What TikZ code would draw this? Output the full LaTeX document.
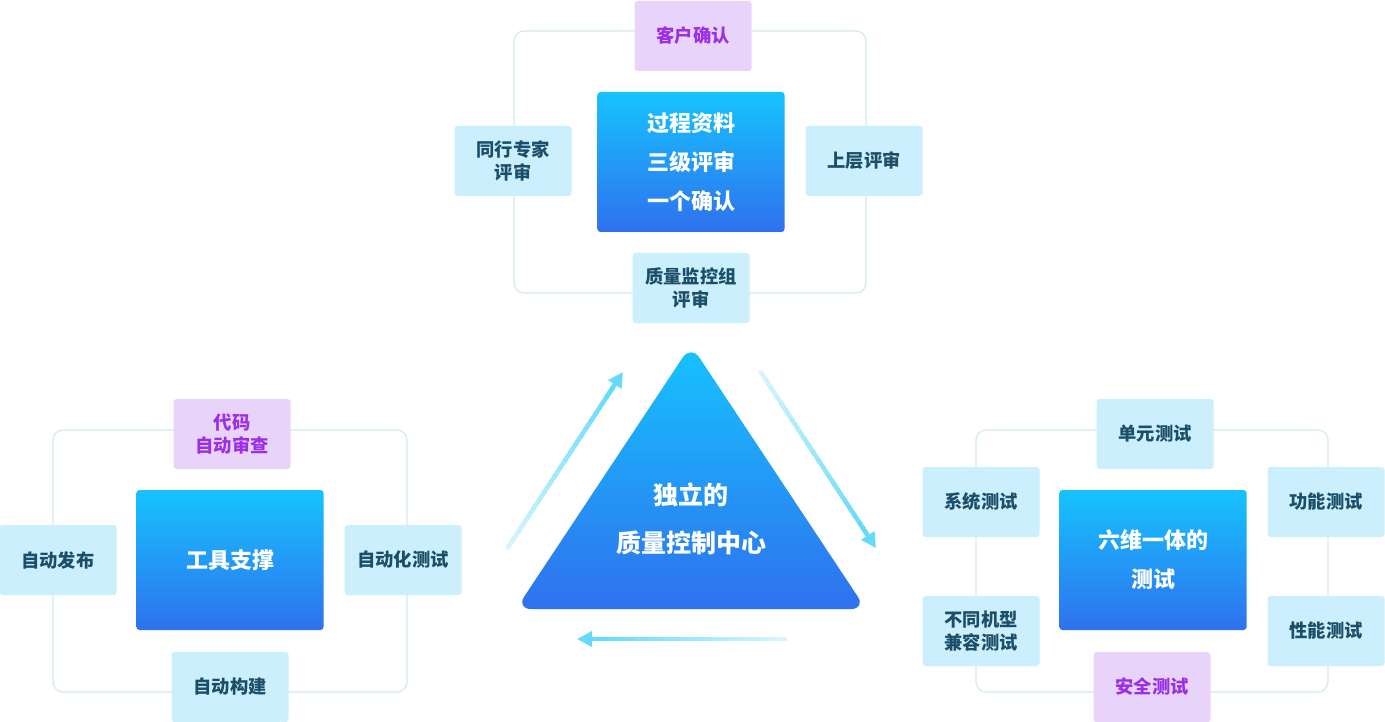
\documentclass[tikz,border=0pt]{standalone}
\usepackage{fontspec}
\newfontfamily\cjk{Noto Sans CJK SC}
\usetikzlibrary{arrows.meta,calc}
\definecolor{lfill}{HTML}{CCEFFD}
\definecolor{ltext}{HTML}{1B4F69}
\definecolor{pfill}{HTML}{E8D4FA}
\definecolor{ptext}{HTML}{9B2FE6}
\definecolor{gtop}{HTML}{16C3FE}
\definecolor{gbot}{HTML}{2F71EE}
\definecolor{framec}{HTML}{D5EAF2}
\definecolor{arrs}{HTML}{66DBF9}
\definecolor{arrl}{HTML}{D6F5FD}
\begin{document}
\begin{tikzpicture}[x=1pt,y=-1pt,
  lbox/.style={fill=lfill, text=ltext, rounded corners=3pt, minimum width=117pt, minimum height=70pt, align=center, inner sep=0pt, font=\cjk\bfseries\fontsize{18.3}{23}\selectfont},
  pbox/.style={lbox, fill=pfill, text=ptext},
  cbox/.style={top color=gtop, bottom color=gbot, rounded corners=3pt, minimum width=187pt, minimum height=140pt, text=white, align=center, inner sep=0pt, font=\cjk\bfseries\fontsize{22}{39}\selectfont},
  framebox/.style={draw=framec, line width=1.3pt, rounded corners=10pt, inner sep=0pt},
  shaftline/.style={line width=4.5pt, line cap=butt},
  headline/.style={line width=4.5pt, arrs, -{Triangle[length=15pt,width=15pt]}}]
\useasboundingbox (0,0) rectangle (1385,722);
\fill[white] (0,0) rectangle (1385,722);

% frames
\node[framebox, minimum width=352pt, minimum height=262pt] (fT) at (690,162) {};
\node[framebox, minimum width=354pt, minimum height=262pt] (fL) at (230,561) {};
\node[framebox, minimum width=352pt, minimum height=262pt] (fR) at (1152,561) {};

% top cluster
\node[pbox] (t1) at (693,36) {客户确认};
\node[cbox] (tc) at (691,162) {过程资料\\三级评审\\一个确认};
\node[lbox] (t2) at (513,161) {同行专家\\评审};
\node[lbox] (t3) at (864,161) {上层评审};
\node[lbox] (t4) at (691,288) {质量监控组\\评审};

% left cluster
\node[pbox] (l1) at (232,434) {代码\\自动审查};
\node[cbox] (lc) at (230,560) {工具支撑};
\node[lbox] (l2) at (58,560) {自动发布};
\node[lbox] (l3) at (403,560) {自动化测试};
\node[lbox] (l4) at (230,687) {自动构建};

% right cluster
\node[lbox] (r1) at (1155,434) {单元测试};
\node[lbox] (r2) at (981,502) {系统测试};
\node[lbox] (r3) at (981,631) {不同机型\\兼容测试};
\node[lbox] (r4) at (1326,502) {功能测试};
\node[lbox] (r5) at (1326,631) {性能测试};
\node[cbox] (rc) at (1153,560) {六维一体的\\测试};
\node[pbox] (r6) at (1152,687) {安全测试};

% triangle
\shade[top color=gtop, bottom color=gbot, rounded corners=15pt] (691,345) -- (866,609) -- (516,609) -- cycle;
\node[text=white, align=center, font=\cjk\bfseries\fontsize{25}{48}\selectfont] (tri) at (691,519) {独立的\\质量控制中心};

% arrows
\coordinate (a1s) at (507,549); \coordinate (a1e) at (623,372);
\coordinate (a2s) at (760,371); \coordinate (a2e) at (876,548);
\coordinate (a3s) at (787,639); \coordinate (a3e) at (577,639);
\foreach \s/\e in {a1s/a1e, a2s/a2e, a3s/a3e}{
  \foreach \i in {0,...,19}{
    \pgfmathsetmacro\fa{\i/20*0.9}
    \pgfmathsetmacro\fb{(\i+1.3)/20*0.9}
    \pgfmathtruncatemacro\p{100*\i/19}
    \draw[shaftline, arrs!\p!arrl] ($(\s)!\fa!(\e)$) -- ($(\s)!\fb!(\e)$);
  }
  \draw[headline] ($(\s)!0.88!(\e)$) -- (\e);
}
\end{tikzpicture}
\end{document}
